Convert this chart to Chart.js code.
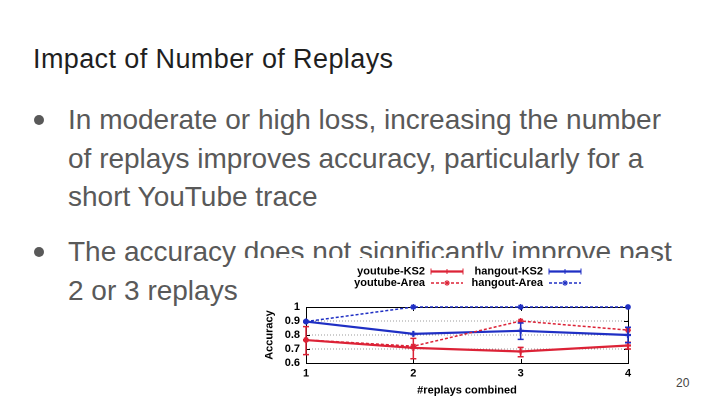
<!DOCTYPE html>
<html>
<head>
<meta charset="utf-8">
<script src="https://cdn.jsdelivr.net/npm/chart.js@4.4.0/dist/chart.umd.min.js"></script>
<style>
  html, body { margin: 0; padding: 0; background: #fff; }
  body { width: 720px; height: 405px; position: relative; overflow: hidden; font-family: "Liberation Sans", Arial, sans-serif; }
  .title { position: absolute; left: 33px; top: 40px; font-size: 27px; line-height: 38px; color: #1f1f1f; letter-spacing: 0.4px; white-space: nowrap; }
  .bullet { position: absolute; left: 68px; font-size: 28px; line-height: 38.5px; color: #595959; white-space: nowrap; }
  .dot { position: absolute; left: -34px; top: 14px; width: 10px; height: 10px; border-radius: 50%; background: #595959; }
  .page { position: absolute; left: 676px; top: 376px; font-size: 12px; color: #444; }
  #wrap { position: absolute; left: 245px; top: 258px; width: 412px; height: 142px; background: #fff; z-index: 2; }
</style>
</head>
<body>
<div class="title">Impact of Number of Replays</div>
<div class="bullet" style="top:101px"><span class="dot"></span>In moderate or high loss, increasing the number<br>of replays improves accuracy, particularly for a<br>short YouTube trace</div>
<div class="bullet" style="top:233px"><span class="dot"></span>The accuracy does not significantly improve past<br>2 or 3 replays</div>
<div class="page">20</div>
<div id="wrap"><canvas id="chart" width="412" height="142"></canvas></div>
<script>
const replays = [1, 2, 3, 4];
const yTicks = [0.6, 0.7, 0.8, 0.9, 1];

const youtubeKS2 = [0.764, 0.708, 0.682, 0.725];
const youtubeKS2Low = [0.66, 0.63, 0.645, 0.70];
const youtubeKS2High = [0.86, 0.776, 0.712, 0.748];
const youtubeArea = [0.765, 0.72, 0.90, 0.835];
const hangoutKS2 = [0.896, 0.808, 0.830, 0.800];
const hangoutKS2Low = [0.892, 0.804, 0.769, 0.745];
const hangoutKS2High = [0.900, 0.812, 0.886, 0.855];
const hangoutArea = [0.896, 1, 1, 1];

const RED = '#dc2236';
const BLUE = '#1f2fc4';
const FONT = 'Liberation Sans, Arial, sans-serif';

const pts = (vals) => vals.map((v, i) => ({ x: replays[i], y: v }));

// error bars for the KS2 series
const errorBars = {
  id: 'errorBars',
  afterDatasetsDraw(chart) {
    const ctx = chart.ctx;
    const xs = chart.scales.x, ys = chart.scales.y;
    chart.data.datasets.forEach((ds) => {
      if (!ds.errLow) return;
      ctx.save();
      ctx.strokeStyle = ds.borderColor;
      ctx.lineWidth = 1.5;
      ds.errLow.forEach((lo, i) => {
        const px = xs.getPixelForValue(replays[i]);
        const y1 = ys.getPixelForValue(lo), y2 = ys.getPixelForValue(ds.errHigh[i]);
        ctx.beginPath();
        ctx.moveTo(px, y1); ctx.lineTo(px, y2);
        ctx.moveTo(px - 3, y1); ctx.lineTo(px + 3, y1);
        ctx.moveTo(px - 3, y2); ctx.lineTo(px + 3, y2);
        ctx.stroke();
      });
      ctx.restore();
    });
  }
};

// black frame with inward ticks, gnuplot style
const frame = {
  id: 'frame',
  beforeDatasetsDraw(chart) {
    const { ctx, chartArea: a } = chart;
    const xs = chart.scales.x, ys = chart.scales.y;
    ctx.save();
    ctx.strokeStyle = '#000';
    ctx.lineWidth = 1;
    ctx.strokeRect(a.left + 0.5, a.top + 0.5, a.right - a.left, a.bottom - a.top);
    ctx.beginPath();
    yTicks.forEach((v) => {
      const py = Math.round(ys.getPixelForValue(v)) + 0.5;
      ctx.moveTo(a.left, py); ctx.lineTo(a.left + 4, py);
      ctx.moveTo(a.right, py); ctx.lineTo(a.right - 4, py);
    });
    replays.forEach((v) => {
      const px = Math.round(xs.getPixelForValue(v)) + 0.5;
      ctx.moveTo(px, a.bottom); ctx.lineTo(px, a.bottom - 4);
      ctx.moveTo(px, a.top); ctx.lineTo(px, a.top + 4);
    });
    ctx.stroke();
    ctx.restore();
  }
};

// two-column legend, text on the left of the sample
const legendBox = {
  id: 'legendBox',
  afterDraw(chart) {
    const ctx = chart.ctx;
    const cols = [180, 298];
    const rows = [13.5, 25];
    ctx.save();
    ctx.font = 'bold 11px ' + FONT;
    ctx.textAlign = 'right';
    ctx.textBaseline = 'middle';
    chart.data.datasets.forEach((ds) => {
      const cx = cols[ds.col], cy = rows[ds.row];
      ctx.fillStyle = '#000';
      ctx.fillText(ds.label, cx, cy);
      const x0 = cx + 6, x1 = cx + 38;
      ctx.strokeStyle = ds.borderColor;
      ctx.lineWidth = ds.borderWidth;
      ctx.setLineDash(ds.borderDash || []);
      ctx.beginPath();
      ctx.moveTo(x0, cy); ctx.lineTo(x1, cy);
      ctx.stroke();
      ctx.setLineDash([]);
      ctx.lineWidth = 1;
      ctx.beginPath();
      if (ds.errLow) {
        ctx.moveTo(x0, cy - 3); ctx.lineTo(x0, cy + 3);
        ctx.moveTo(x1, cy - 3); ctx.lineTo(x1, cy + 3);
        ctx.moveTo((x0 + x1) / 2, cy - 2.5); ctx.lineTo((x0 + x1) / 2, cy + 2.5);
      } else {
        const m = (x0 + x1) / 2;
        ctx.moveTo(m - 3, cy); ctx.lineTo(m + 3, cy);
        ctx.moveTo(m, cy - 3); ctx.lineTo(m, cy + 3);
        ctx.moveTo(m - 2, cy - 2); ctx.lineTo(m + 2, cy + 2);
        ctx.moveTo(m - 2, cy + 2); ctx.lineTo(m + 2, cy - 2);
      }
      ctx.stroke();
    });
    ctx.restore();
  }
};

new Chart(document.getElementById('chart'), {
  type: 'line',
  data: {
    datasets: [
      { label: 'youtube-KS2', data: pts(youtubeKS2), errLow: youtubeKS2Low, errHigh: youtubeKS2High,
        borderColor: RED, backgroundColor: RED, borderWidth: 2.2, pointStyle: 'cross', pointRadius: 3,
        clip: 8, col: 0, row: 0 },
      { label: 'youtube-Area', data: pts(youtubeArea),
        borderColor: RED, backgroundColor: RED, borderWidth: 1.5, borderDash: [3, 2], pointStyle: 'star', pointRadius: 3,
        clip: 8, col: 0, row: 1 },
      { label: 'hangout-KS2', data: pts(hangoutKS2), errLow: hangoutKS2Low, errHigh: hangoutKS2High,
        borderColor: BLUE, backgroundColor: BLUE, borderWidth: 2.2, pointStyle: 'cross', pointRadius: 3,
        clip: 8, col: 1, row: 0 },
      { label: 'hangout-Area', data: pts(hangoutArea),
        borderColor: BLUE, backgroundColor: BLUE, borderWidth: 1.5, borderDash: [3, 2], pointStyle: 'star', pointRadius: 3,
        clip: 8, col: 1, row: 1 },
    ],
  },
  options: {
    responsive: false,
    animation: false,
    devicePixelRatio: 2,
    layout: { padding: { top: 49, right: 29, left: 0, bottom: 0 } },
    plugins: { legend: { display: false }, tooltip: { enabled: false } },
    elements: { line: { tension: 0 }, point: { borderWidth: 1.2 } },
    scales: {
      x: {
        type: 'linear', min: 1, max: 4,
        afterFit: (s) => { s.height = 37; },
        grid: { display: false, drawTicks: false },
        border: { display: false },
        ticks: { stepSize: 1, padding: 4, color: '#000', font: { family: FONT, size: 11, weight: 'bold' } },
        title: { display: true, text: '#replays combined', color: '#000', padding: { top: 0, bottom: 3 },
          font: { family: FONT, size: 11, weight: 'bold' } },
      },
      y: {
        min: 0.6, max: 1,
        afterFit: (s) => { s.width = 61; },
        afterBuildTicks: (s) => { s.ticks = yTicks.map((v) => ({ value: v })); },
        border: { display: false, dash: [1, 2] },
        grid: {
          drawTicks: false,
          color: (c) => (c.tick && (c.tick.value <= 0.6 || c.tick.value >= 1) ? 'rgba(0,0,0,0)' : '#9a9a9a'),
          lineWidth: 1,
        },
        ticks: {
          autoSkip: false,
          padding: 6, color: '#000', font: { family: FONT, size: 11, weight: 'bold' },
          callback: (v) => String(Number(v.toFixed(1))),
        },
        title: { display: true, text: 'Accuracy', color: '#000', padding: { top: 18, bottom: 0 },
          font: { family: FONT, size: 11, weight: 'bold' } },
      },
    },
  },
  plugins: [frame, errorBars, legendBox],
});
</script>
</body>
</html>
